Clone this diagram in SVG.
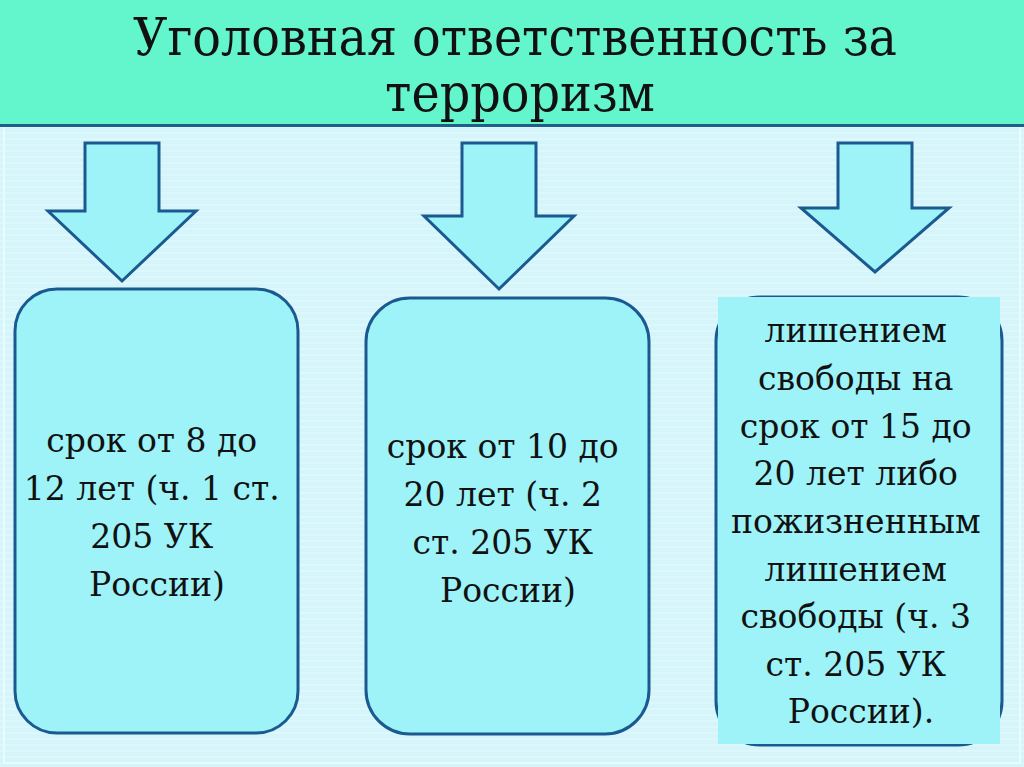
<svg xmlns="http://www.w3.org/2000/svg" width="1024" height="767" viewBox="0 0 1024 767">
  <defs>
    <pattern id="stripes" width="8" height="6" patternUnits="userSpaceOnUse">
      <rect width="8" height="6" fill="#D6F5FA"/>
      <rect y="0" width="8" height="2" fill="#DDF8FC"/>
    </pattern>
  </defs>
  <style>
    .arrow { fill: #9DF3F8; stroke: #1B5A91; stroke-width: 3; stroke-linejoin: miter; }
    .box { fill: #9DF3F8; stroke: #1B5A91; stroke-width: 3; }
    .title { font-family: 'DejaVu Serif', 'Liberation Serif', serif; font-size: 52px; fill: #111; text-anchor: middle; }
    .body { font-family: 'DejaVu Serif', 'Liberation Serif', serif; font-size: 33px; fill: #111; text-anchor: middle; }
  </style>
  <rect x="0" y="0" width="1024" height="767" fill="url(#stripes)"/>
  <rect x="4" y="126" width="1016" height="637" fill="none" stroke="#EAFBFD" stroke-width="2"/>
  <g id="header">
    <rect x="0" y="0" width="1024" height="125" fill="#63F5CC"/>
    <line x1="0" y1="125.5" x2="1024" y2="125.5" stroke="#1E5E8A" stroke-width="3"/>
    <text class="title" x="515" y="55" textLength="764" lengthAdjust="spacingAndGlyphs">Уголовная ответственность за</text>
    <text class="title" x="520" y="111" textLength="270" lengthAdjust="spacingAndGlyphs">терроризм</text>
  </g>
  <g id="connectors">
    <polygon class="arrow" points="85,143 159,143 159,211 196,211 122,281 48,211 85,211"/>
    <polygon class="arrow" points="462,143 536,143 536,216 574,216 499,289 424,216 462,216"/>
    <polygon class="arrow" points="838,143 912,143 912,208 949,208 875,272 801,208 838,208"/>
  </g>
  <g id="node1">
    <rect class="box" x="15" y="289" width="283" height="444" rx="42" ry="42"/>
    <text class="body" x="157">
      <tspan x="157" y="452">срок от 8 до</tspan>
      <tspan x="157" y="500">12 лет (ч. 1 ст.</tspan>
      <tspan x="157" y="548">205 УК</tspan>
      <tspan x="157" y="596">России)</tspan>
    </text>
  </g>
  <g id="node2">
    <rect class="box" x="366" y="298" width="283" height="436" rx="44" ry="44"/>
    <text class="body" x="508">
      <tspan x="508" y="458">срок от 10 до</tspan>
      <tspan x="508" y="506">20 лет (ч. 2</tspan>
      <tspan x="508" y="554">ст. 205 УК</tspan>
      <tspan x="508" y="602">России)</tspan>
    </text>
  </g>
  <g id="node3">
    <rect class="box" x="716" y="297" width="286" height="448" rx="44" ry="44" stroke="#2F7FB5"/>
    <rect x="718" y="297" width="282" height="447" fill="#9DF3F8"/>
    <text class="body" x="861">
      <tspan x="861" y="342">лишением</tspan>
      <tspan x="861" y="390">свободы на</tspan>
      <tspan x="861" y="438">срок от 15 до</tspan>
      <tspan x="861" y="485">20 лет либо</tspan>
      <tspan x="861" y="533">пожизненным</tspan>
      <tspan x="861" y="581">лишением</tspan>
      <tspan x="861" y="628">свободы (ч. 3</tspan>
      <tspan x="861" y="676">ст. 205 УК</tspan>
      <tspan x="861" y="723">России).</tspan>
    </text>
  </g>
</svg>
